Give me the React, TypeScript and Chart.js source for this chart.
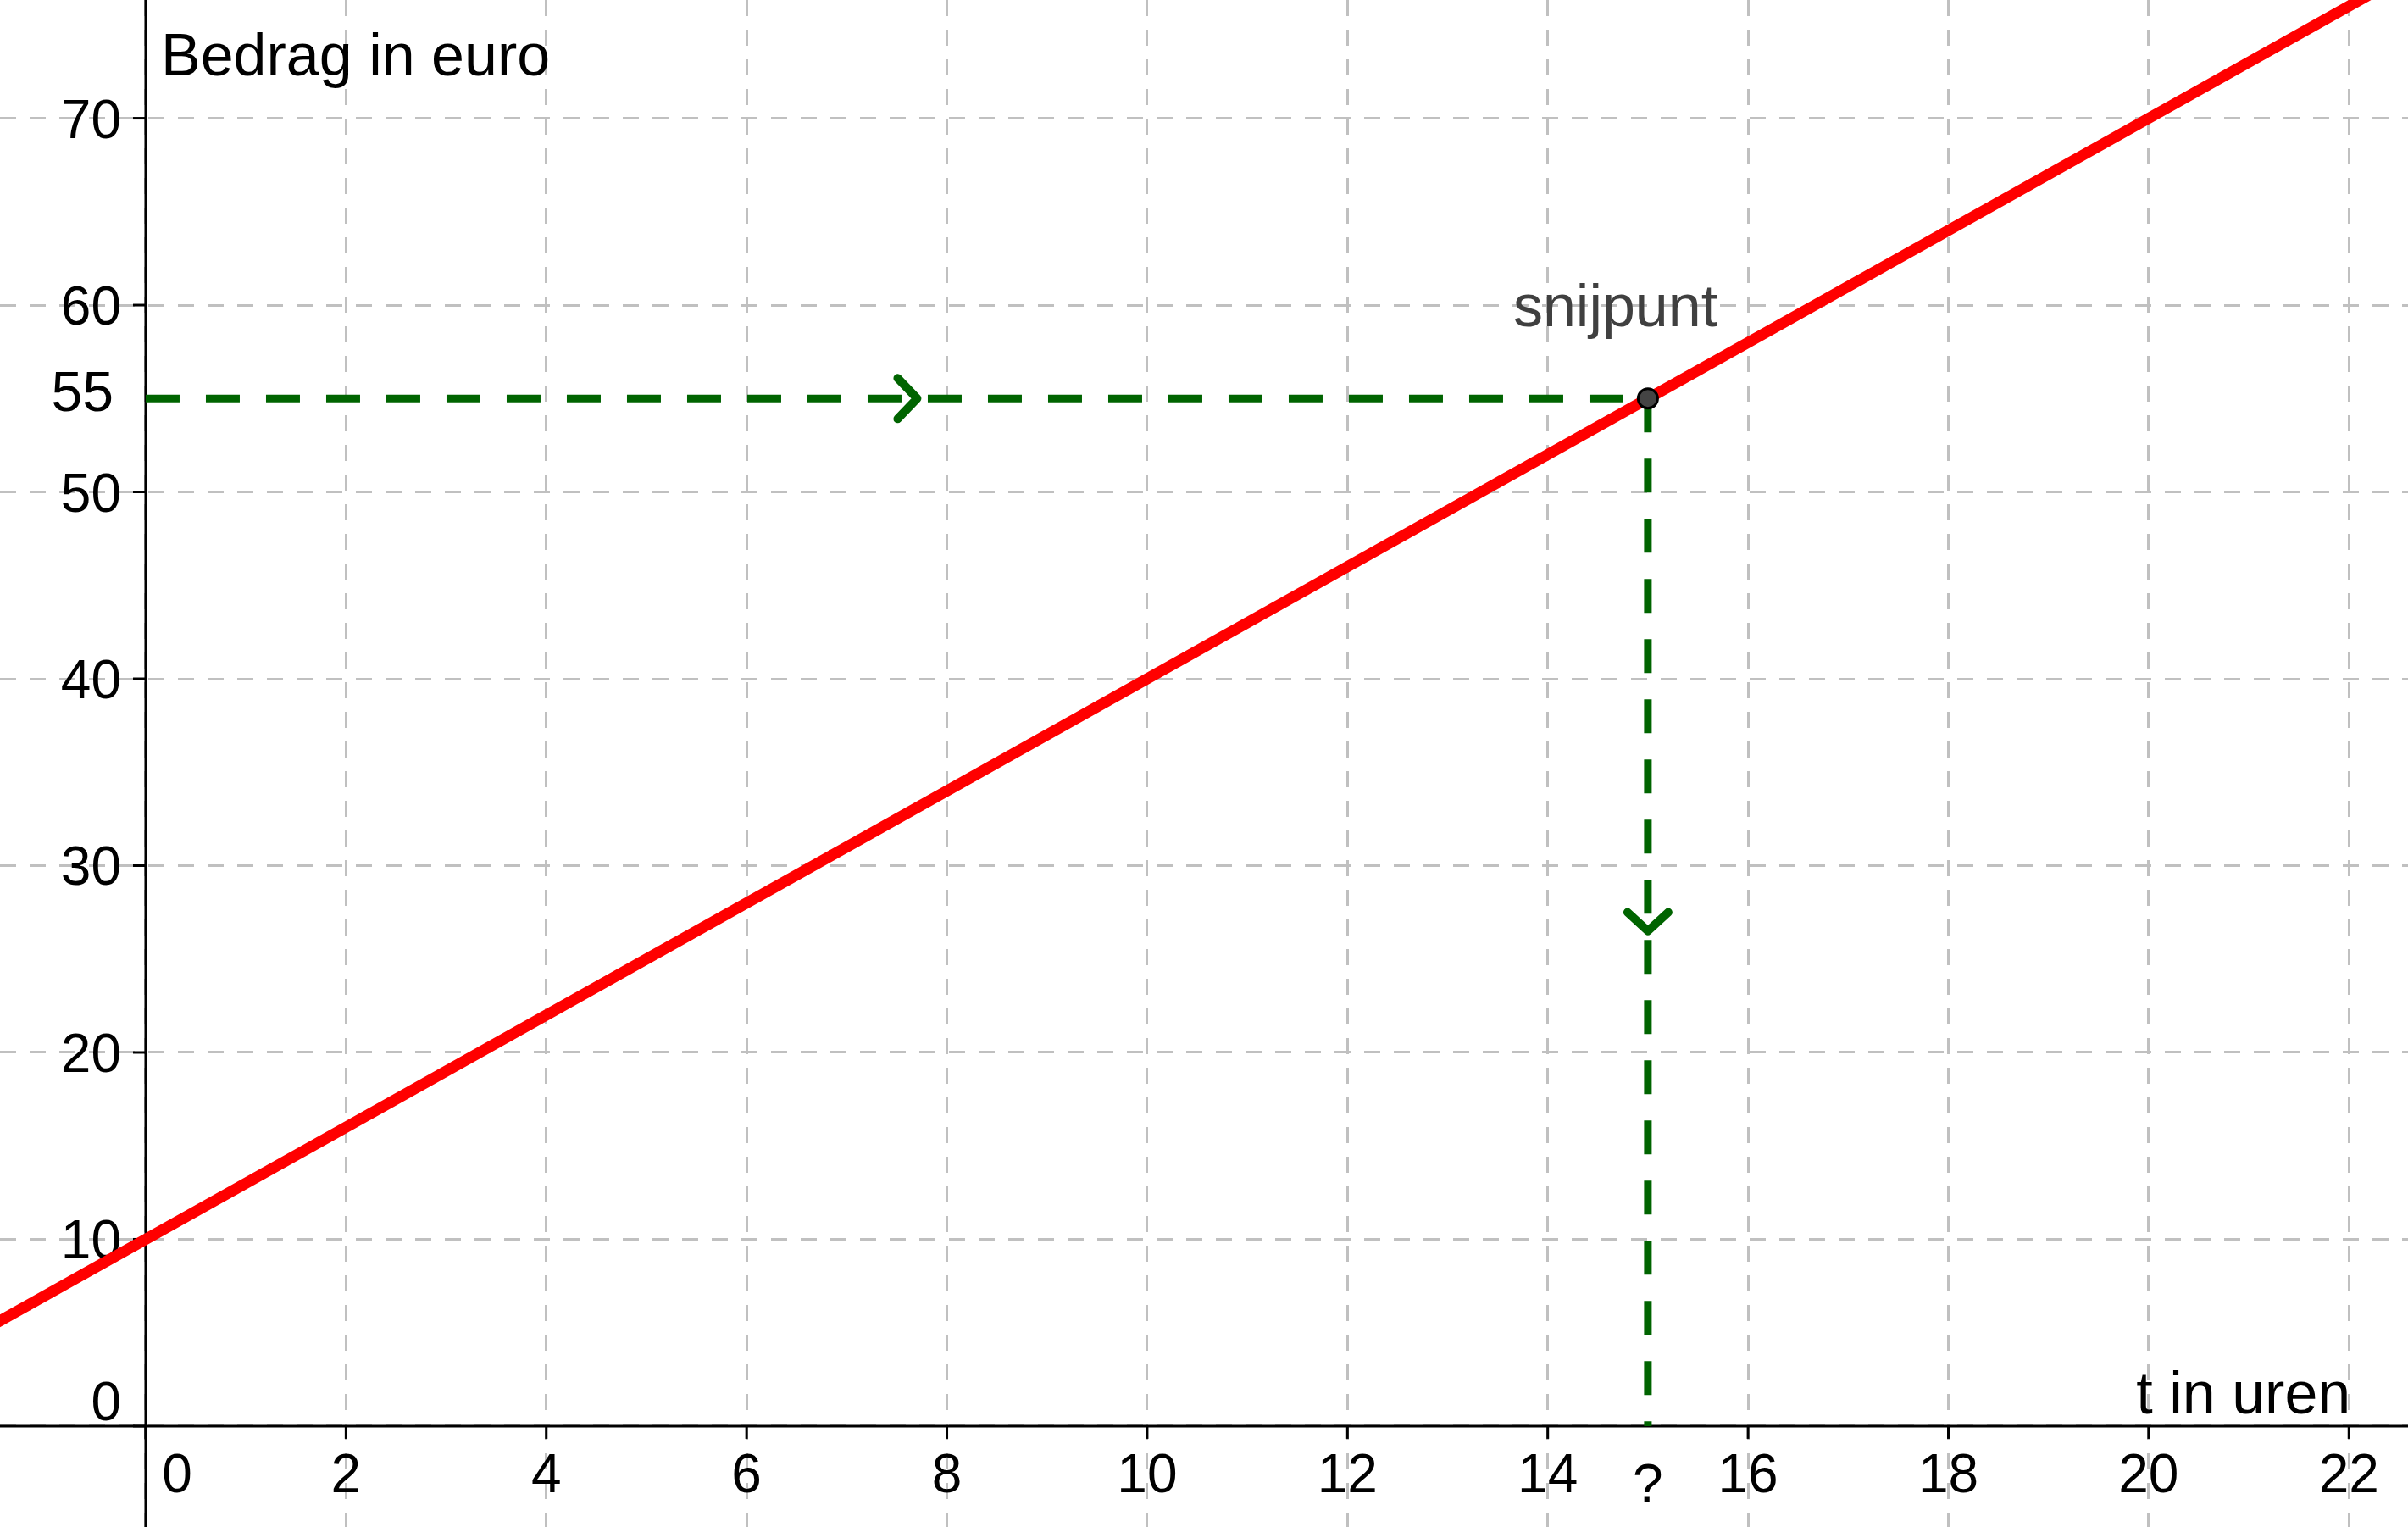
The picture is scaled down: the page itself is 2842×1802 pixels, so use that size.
import React, { useEffect, useRef } from "react";
import { Chart, registerables } from "chart.js";

Chart.register(...registerables);

// ---- data ----
const lineT = [-2, 0, 10, 20, 24];
const lineBedrag = [4, 10, 40, 70, 82];

const snijpuntT = 15;
const snijpuntBedrag = 55;

const horizT = [0, 15];
const horizBedrag = [55, 55];
const vertT = [15, 15];
const vertBedrag = [55, 0];

const xTicks = [0, 2, 4, 6, 8, 10, 12, 14, 16, 18, 20, 22];
const yTicks = [0, 10, 20, 30, 40, 50, 60, 70];
const xTickLabels = ["0", "2", "4", "6", "8", "10", "12", "14", "16", "18", "20", "22"];
const yTickLabels = ["0", "10", "20", "30", "40", "50", "60", "70"];

const xRange = [-1.455, 22.59];
const yRange = [-5.4, 76.33];

const yTitle = "Bedrag in euro";
const xTitle = "t in uren";
const pointLabel = "snijpunt";
const extraYLabel = "55";
const extraXLabel = "?";

const FONT = '"Liberation Sans", Arial, sans-serif';
const GREEN = "#006400";

const geoPlugin = {
  id: "geo",
  beforeDatasetsDraw(chart: any) {
    const ctx = chart.ctx;
    const xs = chart.scales.x;
    const ys = chart.scales.y;
    const X = (v: number) => xs.getPixelForValue(v);
    const Y = (v: number) => ys.getPixelForValue(v);
    const { left, right, top, bottom } = chart.chartArea;
    ctx.save();
    // axes
    ctx.strokeStyle = "#000";
    ctx.lineWidth = 3;
    ctx.beginPath();
    ctx.moveTo(left, Y(0));
    ctx.lineTo(right, Y(0));
    ctx.stroke();
    ctx.beginPath();
    ctx.moveTo(X(0), top);
    ctx.lineTo(X(0), bottom);
    ctx.stroke();
    // tick marks
    for (const t of xTicks) {
      ctx.beginPath();
      ctx.moveTo(X(t), Y(0));
      ctx.lineTo(X(t), Y(0) + 15);
      ctx.stroke();
    }
    for (const v of yTicks) {
      ctx.beginPath();
      ctx.moveTo(X(0) - 15, Y(v));
      ctx.lineTo(X(0), Y(v));
      ctx.stroke();
    }
    // tick labels
    ctx.fillStyle = "#000";
    ctx.font = `64px ${FONT}`;
    ctx.textBaseline = "alphabetic";
    xTicks.forEach((t, i) => {
      ctx.textAlign = "center";
      const px = t === 0 ? X(0) + 37 : X(t);
      ctx.fillText(xTickLabels[i], px, Y(0) + 78);
    });
    yTicks.forEach((v, i) => {
      ctx.textAlign = "right";
      const py = v === 0 ? Y(0) - 7 : Y(v) + 23;
      ctx.fillText(yTickLabels[i], X(0) - 29, py);
    });
    // extra labels
    ctx.font = `66px ${FONT}`;
    ctx.textAlign = "right";
    ctx.fillText(extraYLabel, X(0) - 38, Y(snijpuntBedrag) + 15);
    ctx.font = `64px ${FONT}`;
    ctx.textAlign = "center";
    ctx.fillText(extraXLabel, X(snijpuntT), Y(0) + 90);
    // axis titles
    ctx.font = `70px ${FONT}`;
    ctx.textAlign = "left";
    ctx.fillText(yTitle, X(0) + 18, top + 89);
    ctx.textAlign = "right";
    ctx.fillText(xTitle, X(22) + 2, Y(0) - 15);
    ctx.restore();
  },
  afterDatasetsDraw(chart: any) {
    const ctx = chart.ctx;
    const xs = chart.scales.x;
    const ys = chart.scales.y;
    const X = (v: number) => xs.getPixelForValue(v);
    const Y = (v: number) => ys.getPixelForValue(v);
    ctx.save();
    ctx.strokeStyle = GREEN;
    ctx.lineWidth = 10;
    ctx.lineCap = "round";
    ctx.lineJoin = "round";
    // arrow on horizontal segment (pointing right)
    const hx = (X(horizT[0]) + X(horizT[1])) / 2 + 24;
    const hy = Y(horizBedrag[0]);
    ctx.beginPath();
    ctx.moveTo(hx - 23, hy - 24);
    ctx.lineTo(hx, hy);
    ctx.lineTo(hx - 23, hy + 24);
    ctx.stroke();
    // arrow on vertical segment (pointing down)
    const vx = X(vertT[0]);
    const vy = (Y(vertBedrag[0]) + Y(vertBedrag[1])) / 2 + 22;
    ctx.beginPath();
    ctx.moveTo(vx - 24, vy - 22);
    ctx.lineTo(vx, vy);
    ctx.lineTo(vx + 24, vy - 22);
    ctx.stroke();
    // point label
    ctx.fillStyle = "#404040";
    ctx.font = `70px ${FONT}`;
    ctx.textAlign = "left";
    ctx.textBaseline = "alphabetic";
    ctx.fillText(pointLabel, X(snijpuntT) - 159, Y(snijpuntBedrag) - 85);
    ctx.restore();
  },
};

export default function App() {
  const ref = useRef<HTMLCanvasElement | null>(null);
  useEffect(() => {
    if (!ref.current) return;
    const chart = new Chart(ref.current, {
      type: "scatter",
      data: {
        datasets: [
          {
            data: [{ x: snijpuntT, y: snijpuntBedrag }],
            pointRadius: 11.5,
            pointBorderWidth: 3,
            pointBackgroundColor: "#444444",
            pointBorderColor: "#000000",
            showLine: false,
            order: 0,
          },
          {
            data: vertT.map((t, i) => ({ x: t, y: vertBedrag[i] })),
            showLine: true,
            borderColor: GREEN,
            borderWidth: 9,
            borderDash: [40, 31],
            pointRadius: 0,
            order: 1,
          },
          {
            data: horizT.map((t, i) => ({ x: t, y: horizBedrag[i] })),
            showLine: true,
            borderColor: GREEN,
            borderWidth: 9,
            borderDash: [40, 31],
            pointRadius: 0,
            order: 2,
          },
          {
            data: lineT.map((t, i) => ({ x: t, y: lineBedrag[i] })),
            showLine: true,
            borderColor: "#ff0000",
            borderWidth: 13,
            pointRadius: 0,
            order: 3,
          },
        ],
      },
      options: {
        animation: false,
        responsive: false,
        devicePixelRatio: 1,
        layout: { padding: 0, autoPadding: false },
        plugins: { legend: { display: false }, tooltip: { enabled: false } },
        scales: {
          x: {
            type: "linear",
            min: xRange[0],
            max: xRange[1],
            afterFit: (s: any) => {
              s.height = 0;
            },
            ticks: { display: false, stepSize: 2, includeBounds: false },
            grid: { color: "#c0c0c0", lineWidth: 3, drawTicks: false },
            border: { display: false, dash: [19, 16] },
          },
          y: {
            type: "linear",
            min: yRange[0],
            max: yRange[1],
            afterFit: (s: any) => {
              s.width = 0;
            },
            ticks: { display: false, stepSize: 10, includeBounds: false },
            grid: { color: "#c0c0c0", lineWidth: 3, drawTicks: false },
            border: { display: false, dash: [19, 16] },
          },
        },
      },
      plugins: [geoPlugin],
    });
    return () => chart.destroy();
  }, []);
  return (
    <canvas
      ref={ref}
      width={2842}
      height={1802}
      style={{ position: "fixed", left: 0, top: 0, width: 2842, height: 1802, display: "block" }}
    />
  );
}
